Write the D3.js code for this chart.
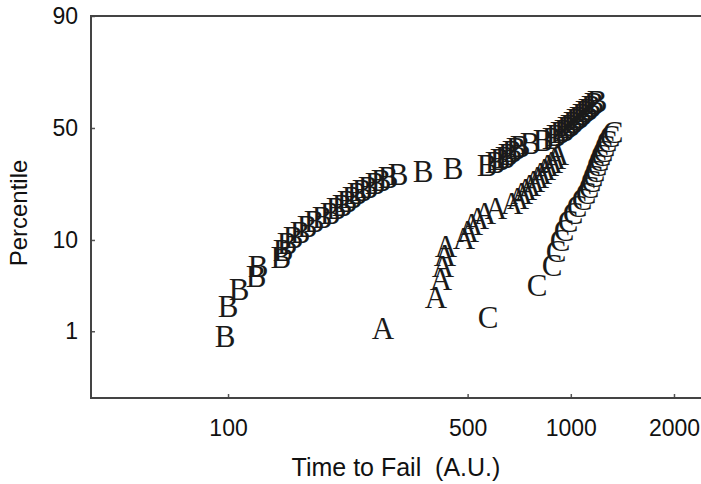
<!DOCTYPE html>
<html>
<head>
<meta charset="utf-8">
<script src="https://cdn.jsdelivr.net/npm/d3@7/dist/d3.min.js"></script>
<style>
  html, body { margin: 0; padding: 0; background: #fff; }
  svg { display: block; }
</style>
</head>
<body>
<svg id="chart" width="701" height="484"></svg>
<script>
// ---- data ----
const xTicks = [100, 500, 1000, 2000];
const yTicks = [1, 10, 50, 90];

const timeA = [283.3, 404.4, 418.2, 423.9, 429.6, 432.5, 488.0, 501.2, 514.9, 536.1, 562.0, 605.1,
  673.7, 701.5, 720.6, 740.3, 760.3, 781.0, 802.3, 818.7, 840.9, 858.0, 881.4, 899.3, 917.6];
const pctA = [1.07, 2.60, 4.13, 5.66, 7.19, 8.72, 10.24, 11.77, 13.30, 14.83, 16.36, 17.89,
  19.42, 20.95, 22.48, 24.01, 25.54, 27.06, 28.59, 30.12, 31.65, 33.18, 34.71, 36.24, 37.77];

const timeB = [98.0, 100.0, 107.7, 120.7, 122.3, 142.7, 144.7, 148.6, 154.7, 162.2, 170.0, 178.2,
  188.0, 198.4, 206.6, 215.1, 222.4, 230.0, 237.8, 246.0, 256.1, 268.5, 279.5, 292.9, 313.3,
  370.7, 453.3, 569.6, 601.1, 621.6, 642.8, 655.8, 673.7, 692.0, 710.9, 760.3, 829.7,
  881.4, 905.4, 930.0, 955.4, 974.9, 994.6, 1014.9, 1035.6, 1056.6, 1078.1, 1100.0, 1122.4,
  1145.2, 1168.5, 1192.3];
const pctB = [0.84, 2.04, 3.24, 4.44, 5.64, 6.83, 8.03, 9.23, 10.43, 11.63, 12.83, 14.03,
  15.23, 16.43, 17.63, 18.82, 20.02, 21.22, 22.42, 23.62, 24.82, 26.02, 27.22, 28.42, 29.62,
  30.82, 32.01, 33.21, 34.41, 35.61, 36.81, 38.01, 39.21, 40.41, 41.61, 42.81, 44.00,
  45.20, 46.40, 47.60, 48.80, 50.00, 51.20, 52.40, 53.60, 54.80, 56.00, 57.19, 58.39,
  59.59, 60.79, 61.99];

const timeC = [573.5, 797.0, 881.4, 905.4, 930.0, 955.4, 981.3, 1014.9, 1042.5, 1078.1, 1107.4,
  1130.0, 1145.2, 1160.7, 1176.4, 1192.3, 1208.5, 1224.8, 1241.4, 1258.3, 1275.2, 1301.2, 1327.6];
const pctC = [1.48, 3.59, 5.70, 7.81, 9.92, 12.03, 14.14, 16.24, 18.35, 20.46, 22.57,
  24.68, 26.79, 28.90, 31.01, 33.12, 35.23, 37.34, 39.45, 41.56, 43.67, 45.78, 47.89];

const series = [
  { label: "A", time: timeA, pct: pctA },
  { label: "B", time: timeB, pct: pctB },
  { label: "C", time: timeC, pct: pctC }
];

// ---- probit helper (inverse standard normal CDF, Acklam) ----
function probit(p) {
  const a = [-3.969683028665376e+01, 2.209460984245205e+02, -2.759285104469687e+02,
             1.383577518672690e+02, -3.066479806614716e+01, 2.506628277459239e+00];
  const b = [-5.447609879822406e+01, 1.615858368580409e+02, -1.556989798598866e+02,
             6.680131188771972e+01, -1.328068155288572e+01];
  const c = [-7.784894002430293e-03, -3.223964580411365e-01, -2.400758277161838e+00,
             -2.549732539343734e+00, 4.374664141464968e+00, 2.938163982698783e+00];
  const d = [7.784695709041462e-03, 3.224671290700398e-01, 2.445134137142996e+00,
             3.754408661907416e+00];
  const pl = 0.02425, ph = 1 - pl;
  let q, r;
  if (p < pl) {
    q = Math.sqrt(-2 * Math.log(p));
    return (((((c[0]*q+c[1])*q+c[2])*q+c[3])*q+c[4])*q+c[5]) / ((((d[0]*q+d[1])*q+d[2])*q+d[3])*q+1);
  } else if (p <= ph) {
    q = p - 0.5; r = q * q;
    return (((((a[0]*r+a[1])*r+a[2])*r+a[3])*r+a[4])*r+a[5])*q / (((((b[0]*r+b[1])*r+b[2])*r+b[3])*r+b[4])*r+1);
  } else {
    q = Math.sqrt(-2 * Math.log(1 - p));
    return -(((((c[0]*q+c[1])*q+c[2])*q+c[3])*q+c[4])*q+c[5]) / ((((d[0]*q+d[1])*q+d[2])*q+d[3])*q+1);
  }
}

// ---- layout ----
const L = 91, R = 701, T = 16, B = 398;
const svg = d3.select("#chart");

const x = d3.scaleLog().domain([39.83, 2398]).range([L, R]);
const zScale = d3.scaleLinear().domain([probit(0.001), probit(0.9)]).range([B, T]);
const yPct = pct => zScale(probit(pct / 100));

// probability-scale wrapper usable by d3.axis
const yAxisScale = function (v) { return yPct(v); };
yAxisScale.copy = () => yAxisScale;
yAxisScale.range = () => [B, T];
yAxisScale.domain = () => [0.1, 90];

// ---- axes ----
const xAxis = d3.axisBottom(x).tickValues(xTicks).tickFormat(d3.format("d"))
  .tickSize(-4).tickPadding(22);
const gx = svg.append("g").attr("transform", `translate(0,${B})`).call(xAxis);
gx.select(".domain").remove();
gx.selectAll(".tick line").attr("stroke", "#555").attr("stroke-width", 1.5);
gx.selectAll(".tick text").attr("font-family", "Liberation Sans, Arial, sans-serif")
  .attr("font-size", 23).attr("fill", "#111");

const yAxis = d3.axisLeft(yAxisScale).tickValues(yTicks).tickFormat(d3.format("d"))
  .tickSize(-4).tickPadding(13);
const gy = svg.append("g").attr("transform", `translate(${L},0)`).call(yAxis);
gy.select(".domain").remove();
gy.selectAll(".tick line").attr("stroke", "#555").attr("stroke-width", 1.5);
gy.selectAll(".tick text").attr("font-family", "Liberation Sans, Arial, sans-serif")
  .attr("font-size", 23).attr("fill", "#111");

// frame: left, bottom, top
const frame = svg.append("g").attr("stroke", "#444").attr("stroke-width", 2).attr("fill", "none");
frame.append("path").attr("d", `M${R},${T}H${L}V${B}H${R}`);

// ---- markers (letters) ----
series.forEach(s => {
  svg.append("g")
    .selectAll("text")
    .data(s.time.map((t, i) => ({ t, p: s.pct[i] })))
    .join("text")
    .attr("x", d => x(d.t))
    .attr("y", d => yPct(d.p))
    .attr("dy", "0.33em")
    .attr("text-anchor", "middle")
    .attr("font-family", "Liberation Serif, DejaVu Serif, serif")
    .attr("font-size", 31)
    .attr("fill", "#1a1a1a")
    .text(s.label);
});

// ---- axis titles ----
svg.append("text")
  .attr("x", 396).attr("y", 476)
  .attr("text-anchor", "middle")
  .attr("font-family", "Liberation Sans, Arial, sans-serif")
  .attr("font-size", 25).attr("fill", "#111")
  .attr("xml:space", "preserve")
  .style("white-space", "pre")
  .text("Time to Fail  (A.U.)");

svg.append("text")
  .attr("transform", "translate(27,213) rotate(-90)")
  .attr("text-anchor", "middle")
  .attr("font-family", "Liberation Sans, Arial, sans-serif")
  .attr("font-size", 24).attr("fill", "#111")
  .text("Percentile");
</script>
</body>
</html>
